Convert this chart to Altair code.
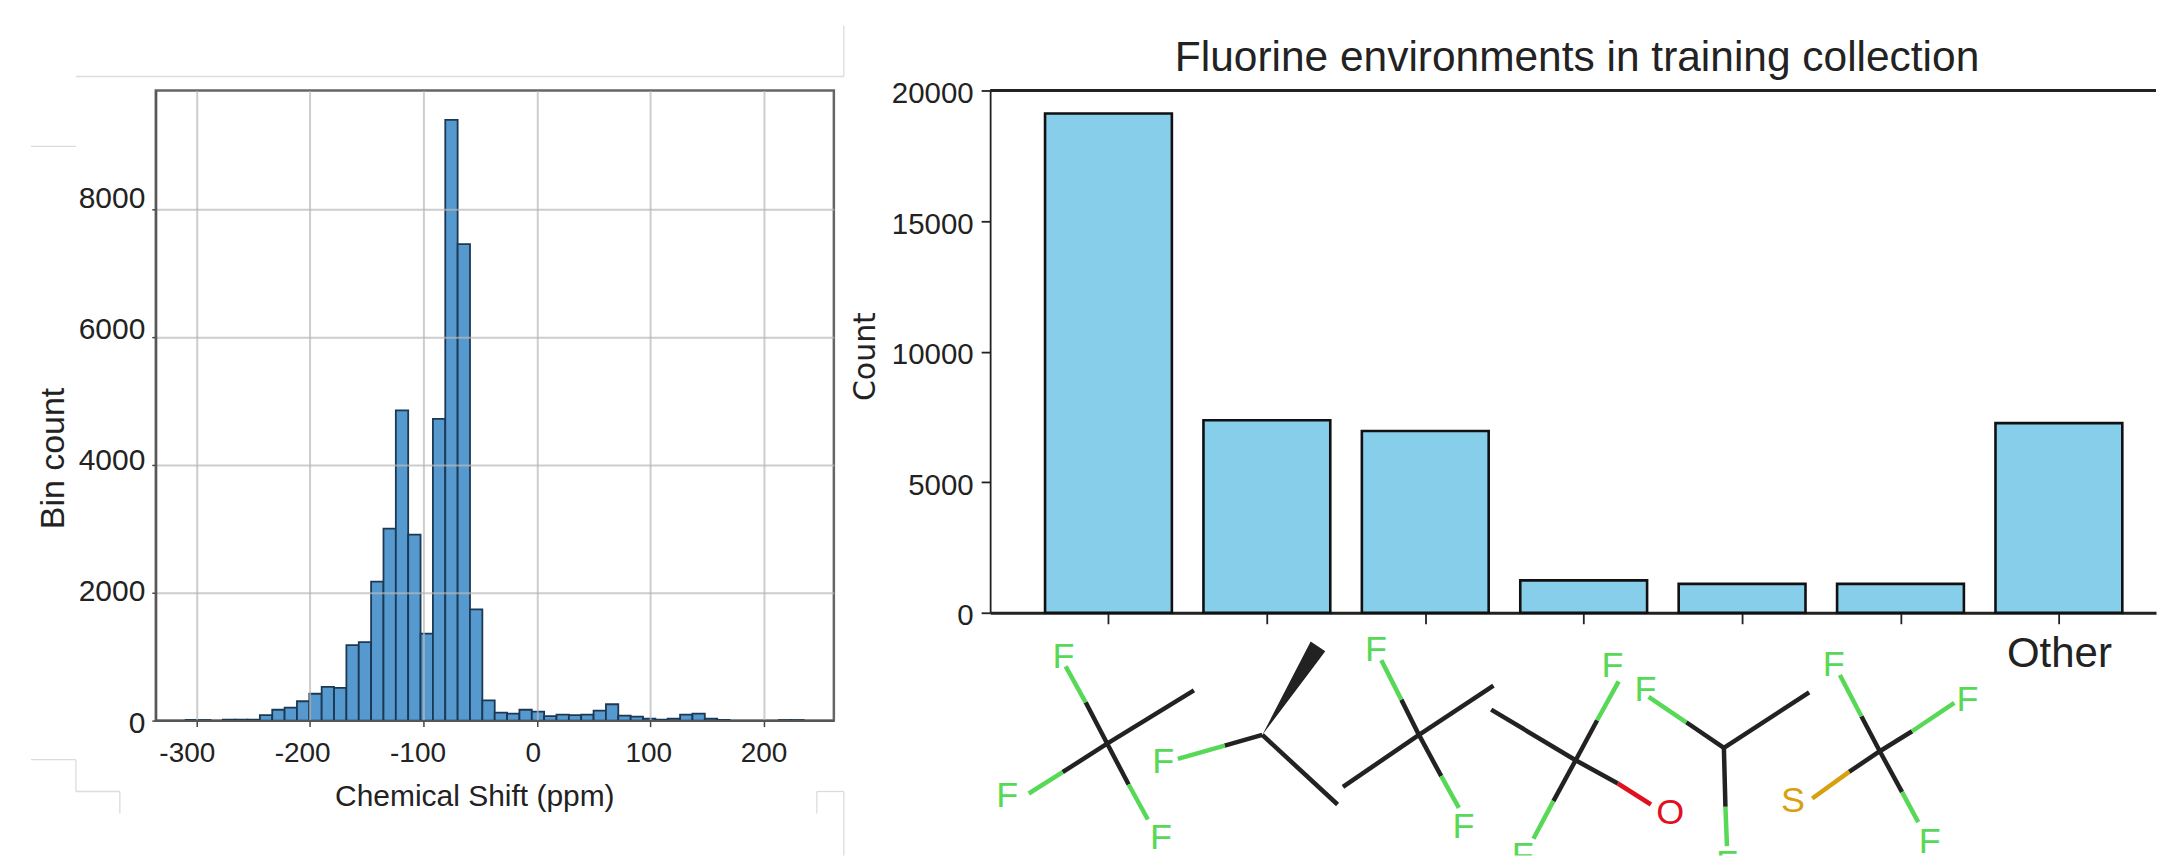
import altair as alt
import pandas as pd

# ---------- histogram (left) ----------
bin_left = [-309.6, -298.7, -276.9, -266.0, -255.1, -244.2, -233.3, -222.4, -211.5, -200.6,
            -189.7, -178.8, -167.9, -157.0, -146.1, -135.2, -124.3, -113.4, -102.5, -91.6,
            -80.7, -69.8, -58.9, -48.0, -37.1, -26.2, -15.3, -4.4, 6.5, 17.4,
            28.3, 39.2, 50.1, 61.0, 71.9, 82.8, 93.7, 104.6, 115.5, 126.4,
            137.3, 148.2, 159.1, 213.6, 224.5]
bin_count = [10, 8, 15, 15, 15, 85, 170, 202, 303, 420,
             528, 512, 1180, 1227, 2175, 3005, 4855, 2910, 1360, 4720,
             9400, 7456, 1740, 318, 124, 108, 170, 140, 70, 93,
             85, 93, 155, 256, 78, 62, 30, 15, 30, 93,
             108, 30, 10, 8, 8]
bin_width = 10.9
hist_x_ticks = [-300, -200, -100, 0, 100, 200]
hist_y_ticks = [0, 2000, 4000, 6000, 8000]

# faint outline left in the picture, in picture pixels (x, y, x2, y2)
out_x1 = [75, 30, 844, 30, 75, 75, 119, 817, 817, 844]
out_y1 = [76, 146, 25, 760, 760, 792, 792, 792, 792, 792]
out_x2 = [844, 75, 844, 75, 75, 119, 119, 844, 817, 844]
out_y2 = [76, 146, 76, 760, 792, 792, 814, 792, 814, 856]

# ---------- bars (right) ----------
env_pos = [0, 1, 2, 3, 4, 5, 6]
env_count = [19120, 7370, 6960, 1240, 1105, 1105, 7260]

# ---------- molecules (drawing units) ----------
seg_x = [192, 192, 164, 192, 134, 192, 220,
         394, 394, 345,
         598, 575, 598, 598, 598, 627,
         802, 802, 830, 802, 773, 802, 857,
         995, 946, 995, 995, 997,
         1198, 1174, 1198, 1240, 1198, 1158, 1198, 1227]
seg_y = [432, 432, 308, 432, 518, 432, 555,
         406, 406, 438,
         406, 300, 406, 406, 406, 530,
         482, 482, 362, 482, 605, 482, 552,
         445, 368, 445, 445, 622,
         455, 350, 455, 395, 455, 517, 455, 578]
seg_x2 = [305, 164, 138, 134, 90, 220, 245,
          492, 345, 284,
          575, 549, 695, 499, 627, 650,
          692, 830, 858, 773, 747, 857, 900,
          946, 897, 1106, 997, 999,
          1174, 1146, 1240, 1295, 1158, 1110, 1227, 1248]
seg_y2 = [272, 308, 200, 518, 582, 555, 660,
          615, 438, 478,
          300, 182, 258, 562, 530, 625,
          330, 362, 245, 605, 718, 552, 615,
          368, 292, 278, 622, 740,
          350, 226, 395, 310, 517, 597, 578, 668]
K, G, R, Y = "#222222", "#57d957", "#e01020", "#d8a010"
seg_col = [K, K, G, K, G, K, G,
           K, K, G,
           K, G, K, K, K, G,
           K, K, G, K, G, K, R,
           K, G, K, K, G,
           K, G, K, G, K, Y, K, G]
atom_x = [135, 62, 262, 265, 542, 656, 850, 733, 925, 893, 999, 1138, 1312, 1085, 1263]
atom_y = [173, 590, 715, 487, 152, 682, 198, 770, 642, 270, 795, 195, 300, 605, 727]
atom_t = ["F", "F", "F", "F", "F", "F", "F", "F", "O", "F", "F", "F", "F", "S", "F"]
atom_c = [G, G, G, G, G, G, G, G, R, G, G, G, G, Y, G]
wedge_x = [394, 457, 476]
wedge_y = [406, 125, 155]
wedge_y2 = [406, 213, 155]

FONT = "Liberation Sans"

# ---------- left panel ----------
L_X0, L_Y0, L_W, L_H = 155, 90, 679, 631
hist = pd.DataFrame({"left": bin_left, "count": bin_count})
hist["right"] = hist["left"] + bin_width
x_h = alt.X("left:Q", scale=alt.Scale(domain=[-336, 262], nice=False, zero=False),
            axis=alt.Axis(values=hist_x_ticks, title="Chemical Shift (ppm)", format="d",
                          titleFont=FONT, titleFontSize=30, titleFontWeight="normal", titleColor="#222222",
                          titleX=319, titleY=85, titleBaseline="alphabetic", titleAlign="center",
                          labelFont=FONT, labelFontSize=28, labelColor="#222222", labelFlush=False,
                          labelOverlap=False, labelPadding=13,
                          labelExpr="replace(datum.label, '−', '-')",
                          labelOffset=alt.expr("(datum.value-200)*0.0196"),
                          tickSize=6, tickColor="#444444", tickWidth=1.5,
                          domainColor="#555555", domainWidth=2,
                          grid=True, gridColor="#b8b8b8", gridWidth=2, gridOpacity=0.7, zindex=1))
y_h = alt.Y("count:Q", scale=alt.Scale(domain=[0, 9860], nice=False),
            axis=alt.Axis(values=hist_y_ticks, title="Bin count", format="d",
                          titleFont=FONT, titleFontSize=34, titleFontWeight="normal", titleColor="#222222",
                          titleX=-102, titleY=368, titleBaseline="middle", titleAlign="center",
                          labelFont=FONT, labelFontSize=30, labelColor="#222222", labelOverlap=False,
                          labelFlush=False, labelPadding=7,
                          labelOffset=alt.expr("2.5-datum.value*0.0017"),
                          tickSize=4, tickColor="#444444", tickWidth=1.5,
                          domainColor="#555555", domainWidth=2,
                          grid=True, gridColor="#b8b8b8", gridWidth=2, gridOpacity=0.7, zindex=1))
bars_h = alt.Chart(hist).mark_bar(fill="#5599cf", stroke="#1c3854", strokeWidth=1.8).encode(
    x=x_h, x2="right:Q", y=y_h, y2=alt.Y2(datum=0))

out = pd.DataFrame({"x": out_x1, "y": out_y1, "x2": out_x2, "y2": out_y2})
out["x"] -= L_X0
out["x2"] -= L_X0
out["y"] -= L_Y0
out["y2"] -= L_Y0
outline = alt.Chart(out).mark_rule(color="#dcdcdc", strokeWidth=1.3).encode(
    x=alt.X("x:Q", scale=None, axis=None), x2="x2:Q",
    y=alt.Y("y:Q", scale=None, axis=None), y2="y2:Q")

left = alt.layer(bars_h, outline).resolve_scale(x="independent", y="independent").properties(
    width=L_W, height=L_H,
    view=alt.ViewConfig(stroke="#666666", strokeWidth=2.5))

# ---------- right panel ----------
env = pd.DataFrame({"pos": env_pos, "count": env_count})
x_e = alt.X("pos:Q", scale=alt.Scale(domain=[-0.747, 6.613], nice=False, zero=False, padding=0),
            axis=alt.Axis(values=env_pos, title=None, grid=False,
                          labelExpr="datum.value==6 ? 'Other' : ''", labelFont=FONT, labelFontSize=42,
                          labelColor="#222222", labelPadding=10, labelOverlap=False, labelFlush=False,
                          tickSize=11, tickColor="#222222", tickWidth=1.8,
                          domainColor="#222222", domainWidth=3))
y_e = alt.Y("count:Q", scale=alt.Scale(domain=[0, 20000], nice=False),
            axis=alt.Axis(values=[0, 5000, 10000, 15000, 20000], title="Count", grid=False, format="d",
                          titleFont="DejaVu Sans", titleFontSize=30, titleFontWeight="normal", titleColor="#222222",
                          titleX=-125, titleY=266, titleBaseline="middle", titleAlign="center",
                          labelFont=FONT, labelFontSize=29.5, labelColor="#222222", labelPadding=8,
                          labelOffset=3, labelOverlap=False, labelFlush=False,
                          tickSize=9, tickColor="#222222", tickWidth=1.8,
                          domainColor="#222222", domainWidth=1.8))
bars_e = alt.Chart(env).mark_bar(size=127, fill="#87ceeb", stroke="#111111", strokeWidth=2.6).encode(
    x=x_e, y=y_e)
top_spine = alt.Chart(pd.DataFrame({"count": [20000]})).mark_rule(color="#222222", strokeWidth=3).encode(
    y="count:Q")
right = alt.layer(bars_e, top_spine).properties(
    width=1167.5, height=523,
    title=alt.TitleParams("Fluorine environments in training collection", font=FONT, fontSize=42.5,
                          fontWeight="normal", color="#222222", anchor="middle", offset=-1, dx=4),
    view=alt.ViewConfig(stroke=None))

# ---------- molecule panel ----------
sx = alt.Scale(domain=[39.65, 1557.6], nice=False, zero=False)
sy = alt.Scale(domain=[768, 75], nice=False, zero=False)
seg = pd.DataFrame({"x": seg_x, "y": seg_y, "x2": seg_x2, "y2": seg_y2, "c": seg_col})
atoms = pd.DataFrame({"x": atom_x, "y": atom_y, "t": atom_t, "c": atom_c})
wedge = pd.DataFrame({"x": wedge_x, "y": wedge_y, "y2": wedge_y2})
bonds = alt.Chart(seg).mark_rule(strokeWidth=4.5, strokeCap="butt", clip=True).encode(
    x=alt.X("x:Q", scale=sx, axis=None), x2="x2:Q",
    y=alt.Y("y:Q", scale=sy, axis=None), y2="y2:Q",
    color=alt.Color("c:N", scale=None))
wedge_m = alt.Chart(wedge).mark_area(color="#222222", clip=True).encode(
    x=alt.X("x:Q", scale=sx, axis=None),
    y=alt.Y("y:Q", scale=sy, axis=None), y2="y2:Q")
labels = alt.Chart(atoms).mark_text(font=FONT, fontSize=36, align="center", baseline="middle", clip=True).encode(
    x=alt.X("x:Q", scale=sx, axis=None),
    y=alt.Y("y:Q", scale=sy, axis=None),
    text="t:N", color=alt.Color("c:N", scale=None))
mol = alt.layer(wedge_m, bonds, labels).properties(
    width=1167.5, height=231, view=alt.ViewConfig(stroke=None))

chart = alt.hconcat(
    left,
    alt.vconcat(right, mol, spacing=12, bounds="flush"),
    spacing=156.5, bounds="flush",
).properties(
    padding={"left": 21, "top": 15, "right": 0, "bottom": 0},
    background="white",
)

chart.save("out.html", embed_options={"renderer": "svg", "actions": False})
